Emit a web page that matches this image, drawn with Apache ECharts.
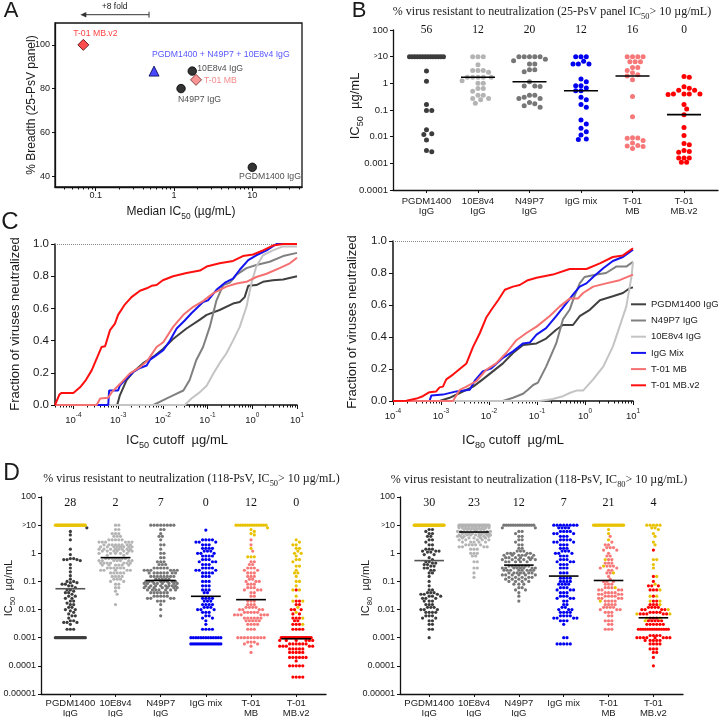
<!DOCTYPE html>
<html><head><meta charset="utf-8">
<script src="https://cdn.jsdelivr.net/npm/echarts@6.0.0/dist/echarts.min.js"></script>
<style>html,body{margin:0;padding:0;background:#fff;}#chart{width:719px;height:717px;}</style>
</head><body><div id="chart"></div>
<script>
// ================= DATA =================
// Panel A: median IC50 (µg/mL) vs % breadth (25-PsV panel)
const aLabels = ['T-01 MB.v2', 'PGDM1400 + N49P7 + 10E8v4 IgG', '10E8v4 IgG', 'T-01 MB', 'N49P7 IgG', 'PGDM1400 IgG'];
const aMedianIC50 = [0.0695, 0.556, 1.71, 1.91, 1.23, 10];
const aBreadth = [100, 88, 88, 84, 80, 44];
const aXTickValues = [0.1, 1, 10];
const aYTickValues = [40, 60, 80, 100];

// Shared categories for panels B and D
const categories = ['PGDM1400\nIgG', '10E8v4\nIgG', 'N49P7\nIgG', 'IgG mix', 'T-01\nMB', 'T-01\nMB.v2'];

// Panel B: 25-PsV IC50 values, [µg/mL, count]; ">10" plotted at 10
const bResistantPct = [56, 12, 20, 12, 16, 0];
const bPGDM1400 = [[10,14],[2.9,1],[1.2,1],[0.16,1],[0.095,2],[0.018,1],[0.013,1],[0.012,1],[0.0075,1],[0.003,1],[0.0027,1]];
const b10E8v4 = [[10,3],[5,1],[3,3],[2.6,1],[1.7,5],[1.26,1],[1.0,2],[0.64,2],[0.5,1],[0.36,2],[0.27,2],[0.24,1],[0.18,1]];
const bN49P7 = [[10,5],[8,1],[7,1],[5.3,2],[3.2,2],[2.7,1],[1.15,1],[0.8,2],[0.76,1],[0.36,2],[0.3,1],[0.27,2],[0.19,1],[0.17,1],[0.145,1],[0.127,1]];
const bIgGMix = [[10,3],[6.7,1],[5.3,3],[1.45,1],[1.15,1],[0.82,2],[0.67,1],[0.53,2],[0.30,1],[0.24,1],[0.16,1],[0.126,1],[0.042,1],[0.030,1],[0.0205,1],[0.0154,1],[0.0116,1],[0.0082,1],[0.0078,1]];
const bT01MB = [[10,4],[6.5,3],[3.9,2],[3.0,1],[2.5,1],[2.1,1],[1.88,1],[1.35,1],[0.32,1],[0.056,1],[0.0092,1],[0.009,1],[0.0088,1],[0.0072,1],[0.0058,1],[0.0047,1],[0.0045,1],[0.0043,1],[0.0036,1]];
const bT01MBv2 = [[1.8,1],[1.7,1],[0.75,1],[0.65,1],[0.55,2],[0.40,4],[0.38,1],[0.16,1],[0.11,1],[0.067,1],[0.022,1],[0.011,1],[0.0056,1],[0.005,1],[0.003,1],[0.0028,1],[0.0026,1],[0.0016,3],[0.0011,2]];
const bMedians = [null, 1.7, 1.15, 0.53, 1.88, 0.067];
const bYTickValues = [0.0001, 0.001, 0.01, 0.1, 1, 10, 100];
const bYTickLabels = ['0.0001', '0.001', '0.01', '0.1', '1', '{g|>}10', '100'];

// Panel C: cumulative curves, [log10 cutoff (µg/mL), fraction neutralized]
const cSeriesNames = ['PGDM1400 IgG', 'N49P7 IgG', '10E8v4 IgG', 'IgG Mix', 'T-01 MB', 'T-01 MB.v2'];
const c50PGDM1400 = [[-4.41,0],[-3.02,0],[-2.96,0.06],[-2.81,0.155],[-2.66,0.205],[-2.44,0.26],[-2.21,0.30],[-1.99,0.35],[-1.77,0.41],[-1.47,0.475],[-1.17,0.53],[-1.02,0.56],[-0.73,0.59],[-0.43,0.63],[-0.28,0.64],[-0.17,0.67],[-0.09,0.74],[0.09,0.745],[0.24,0.765],[0.46,0.775],[0.69,0.78],[1.0,0.80]];
const c50N49P7 = [[-4.41,0],[-2.21,0],[-2.07,0.02],[-1.92,0.04],[-1.77,0.06],[-1.54,0.09],[-1.40,0.155],[-1.25,0.28],[-1.10,0.36],[-0.95,0.485],[-0.80,0.65],[-0.65,0.745],[-0.50,0.76],[-0.35,0.81],[-0.13,0.85],[0.09,0.87],[0.39,0.89],[0.69,0.925],[1.0,0.945]];
const c5010E8v4 = [[-4.41,0],[-1.51,0],[-1.36,0.04],[-1.17,0.08],[-1.02,0.12],[-0.87,0.195],[-0.73,0.26],[-0.58,0.32],[-0.43,0.40],[-0.28,0.485],[-0.13,0.61],[-0.02,0.755],[0.09,0.86],[0.24,0.93],[0.46,0.96],[0.69,0.985],[1.0,0.985]];
const c50IgGMix = [[-4.41,0],[-3.22,0],[-3.20,0.09],[-3.00,0.09],[-2.96,0.12],[-2.81,0.165],[-2.66,0.205],[-2.51,0.23],[-2.36,0.245],[-2.29,0.28],[-2.14,0.31],[-1.99,0.34],[-1.84,0.40],[-1.69,0.475],[-1.51,0.525],[-1.36,0.57],[-1.21,0.61],[-1.10,0.64],[-0.99,0.65],[-0.80,0.715],[-0.61,0.76],[-0.43,0.785],[-0.28,0.84],[-0.09,0.90],[0.09,0.93],[0.32,0.96],[0.54,1.0],[1.0,1.0]];
const c50T01MB = [[-4.41,0],[-3.48,0],[-3.40,0.04],[-3.22,0.045],[-3.14,0.08],[-2.96,0.13],[-2.74,0.195],[-2.51,0.235],[-2.33,0.28],[-2.14,0.36],[-1.99,0.39],[-1.77,0.485],[-1.54,0.56],[-1.32,0.61],[-1.10,0.645],[-0.87,0.695],[-0.58,0.735],[-0.35,0.755],[-0.13,0.765],[0.09,0.795],[0.32,0.815],[0.61,0.85],[0.84,0.88],[1.0,0.915]];
const c50T01MBv2 = [[-4.41,0],[-4.31,0.066],[-4.26,0.075],[-4.00,0.075],[-3.85,0.11],[-3.72,0.155],[-3.59,0.215],[-3.46,0.30],[-3.37,0.36],[-3.29,0.365],[-3.18,0.465],[-3.07,0.505],[-3.00,0.56],[-2.86,0.62],[-2.70,0.67],[-2.51,0.71],[-2.36,0.725],[-2.25,0.74],[-2.14,0.745],[-2.00,0.775],[-1.77,0.80],[-1.47,0.82],[-1.17,0.835],[-1.02,0.86],[-0.73,0.88],[-0.43,0.895],[-0.21,0.925],[0.02,0.935],[0.24,0.96],[0.46,0.99],[0.69,1.0],[1.0,1.0]];
const c80PGDM1400 = [[-4,0],[-3.03,0],[-2.82,0.02],[-2.61,0.05],[-2.33,0.09],[-2.13,0.135],[-1.92,0.185],[-1.71,0.235],[-1.50,0.30],[-1.29,0.35],[-1.01,0.36],[-0.81,0.39],[-0.60,0.445],[-0.46,0.475],[-0.25,0.475],[-0.11,0.53],[0.10,0.57],[0.31,0.63],[0.58,0.655],[0.79,0.675],[0.93,0.705],[1.0,0.71]];
const c80N49P7 = [[-4,0],[-1.71,0],[-1.50,0.02],[-1.29,0.045],[-1.19,0.07],[-1.08,0.10],[-0.98,0.115],[-0.81,0.215],[-0.60,0.36],[-0.46,0.51],[-0.32,0.57],[-0.22,0.655],[-0.11,0.735],[-0.01,0.775],[0.24,0.79],[0.44,0.80],[0.65,0.84],[0.86,0.84],[1.0,0.87]];
const c8010E8v4 = [[-4,0],[-0.94,0],[-0.67,0.012],[-0.46,0.03],[-0.32,0.05],[-0.18,0.065],[-0.04,0.065],[0.17,0.135],[0.38,0.215],[0.58,0.34],[0.72,0.465],[0.86,0.59],[0.97,0.78],[1.0,0.87]];
const c80IgGMix = [[-4,0],[-3.24,0],[-3.20,0.035],[-2.96,0.04],[-2.68,0.06],[-2.40,0.07],[-2.30,0.125],[-2.13,0.185],[-1.95,0.205],[-1.71,0.27],[-1.50,0.31],[-1.29,0.36],[-1.15,0.365],[-1.01,0.415],[-0.81,0.455],[-0.60,0.53],[-0.39,0.61],[-0.25,0.665],[-0.11,0.715],[0.03,0.735],[0.17,0.775],[0.38,0.83],[0.58,0.875],[0.79,0.90],[1.0,0.945]];
const c80T01MB = [[-4,0],[-2.75,0],[-2.61,0.07],[-2.47,0.09],[-2.26,0.125],[-2.06,0.195],[-1.85,0.235],[-1.64,0.30],[-1.43,0.38],[-1.22,0.425],[-1.01,0.465],[-0.74,0.53],[-0.53,0.59],[-0.32,0.64],[-0.15,0.64],[-0.04,0.675],[0.17,0.715],[0.44,0.735],[0.72,0.755],[1.0,0.79]];
const c80T01MBv2 = [[-4,0],[-3.72,0.002],[-3.51,0.015],[-3.38,0.03],[-3.24,0.055],[-3.10,0.06],[-3.03,0.085],[-2.96,0.09],[-2.89,0.135],[-2.75,0.165],[-2.61,0.20],[-2.47,0.235],[-2.33,0.34],[-2.19,0.425],[-2.06,0.52],[-1.95,0.57],[-1.81,0.63],[-1.67,0.695],[-1.50,0.715],[-1.36,0.725],[-1.19,0.755],[-1.01,0.77],[-0.67,0.79],[-0.32,0.825],[0.03,0.825],[0.31,0.86],[0.58,0.90],[0.79,0.91],[1.0,0.955]];
const cXTickExponents = [-4, -3, -2, -1, 0, 1];
const cYTickValues = [0, 0.2, 0.4, 0.6, 0.8, 1.0];

// Panel D: 118-PsV values, [µg/mL, count]; "Y" lists are the yellow-marked viruses
const dLResistantPct = [28, 2, 7, 0, 12, 0];
const dL_PGDM1400 = [[8,1],[6,1],[4.5,1],[3,1],[1.4,1],[0.9,1],[0.65,2],[0.6,3],[0.55,1],[0.4,1],[0.3,1],[0.22,1],[0.16,1],[0.12,1],[0.1,2],[0.09,2],[0.08,2],[0.07,2],[0.06,1],[0.05,2],[0.045,1],[0.04,2],[0.035,1],[0.03,2],[0.025,2],[0.02,2],[0.017,1],[0.015,2],[0.012,2],[0.01,2],[0.009,1],[0.008,1],[0.007,1],[0.006,2],[0.005,1],[0.004,2],[0.0035,3],[0.003,1],[0.002,3],[0.001,25]];
const dL_PGDM1400Y = [[10,33]];
const dL_10E8v4 = [[10,2],[7,2],[5,3],[4,3],[3,5],[2.5,6],[2,8],[1.7,8],[1.4,8],[1.2,7],[1.0,5],[0.85,2],[0.65,7],[0.55,7],[0.45,7],[0.38,6],[0.3,6],[0.25,5],[0.2,5],[0.15,4],[0.12,3],[0.1,2],[0.08,2],[0.06,2],[0.045,1],[0.035,1],[0.015,1]];
const dL_N49P7 = [[10,8],[7,2],[5,1],[4,2],[3,1],[2,2],[1.4,1],[1.0,2],[0.7,2],[0.5,3],[0.4,3],[0.3,5],[0.25,6],[0.2,8],[0.15,8],[0.12,5],[0.1,8],[0.085,8],[0.07,8],[0.06,7],[0.05,7],[0.04,6],[0.03,5],[0.025,4],[0.02,3],[0.015,1],[0.01,1],[0.006,1]];
const dL_IgGMix = [[6.7,1],[3,4],[2.5,3],[2,3],[1.5,4],[1.2,3],[1.0,3],[0.8,4],[0.6,3],[0.5,3],[0.4,3],[0.3,4],[0.25,3],[0.2,4],[0.15,3],[0.1,3],[0.07,3],[0.05,3],[0.04,2],[0.025,4],[0.02,3],[0.015,4],[0.012,3],[0.01,3],[0.008,3],[0.006,2],[0.005,2],[0.004,1],[0.003,1],[0.002,4],[0.001,13],[0.0006,16]];
const dL_T01MB = [[3,1],[2,1],[1.2,1],[0.5,2],[0.4,2],[0.3,3],[0.25,2],[0.2,3],[0.15,3],[0.12,2],[0.1,3],[0.08,3],[0.06,3],[0.05,3],[0.04,2],[0.03,2],[0.02,3],[0.015,3],[0.012,4],[0.01,4],[0.008,5],[0.0065,6],[0.005,6],[0.004,5],[0.003,4],[0.002,3],[0.001,9],[0.0007,3],[0.0006,2],[0.0005,1],[0.0003,1]];
const dL_T01MBY = [[10,14],[8,1],[7,1],[6,1],[5,1],[4.5,1],[1.5,1],[0.75,3]];
const dL_T01MBv2 = [[0.05,1],[0.02,2],[0.015,2],[0.01,3],[0.007,2],[0.005,3],[0.004,2],[0.003,3],[0.002,4],[0.001,22],[0.0008,6],[0.0006,6],[0.0005,5],[0.0004,5],[0.0003,5],[0.0002,6],[0.00015,1],[0.0001,5],[0.00004,4]];
const dL_T01MBv2Y = [[3,1],[2.5,1],[2,2],[1.5,2],[1.2,1],[1,2],[0.8,1],[0.6,2],[0.5,1],[0.35,2],[0.25,1],[0.2,2],[0.15,1],[0.1,2],[0.07,1],[0.05,2],[0.03,1],[0.02,2],[0.012,1],[0.008,1],[0.005,1],[0.003,1]];
const dLMedians = [0.055, 0.70, 0.108, 0.0296, 0.0225, 0.00092];

const dRResistantPct = [30, 23, 12, 7, 21, 4];
const dR_PGDM1400 = [[7,2],[6,1],[5,2],[4,2],[3,2],[2.5,1],[2,2],[1.4,3],[1.2,3],[1.1,2],[0.9,2],[0.7,1],[0.6,1],[0.5,2],[0.45,2],[0.4,2],[0.35,2],[0.3,2],[0.25,2],[0.2,2],[0.15,1],[0.1,1],[0.07,1],[0.05,2],[0.04,3],[0.035,3],[0.03,3],[0.025,3],[0.02,3],[0.015,3],[0.012,3],[0.01,3],[0.008,4],[0.006,3],[0.005,2],[0.004,2],[0.003,2],[0.002,2],[0.001,1]];
const dR_PGDM1400Y = [[10,35]];
const dR_10E8v4 = [[10,27],[9,10],[8,10],[7,7],[6,5],[5,8],[4.5,7],[4,6],[3.5,5],[3,5],[2.5,5],[2,5],[1.7,4],[1.4,3],[1.0,3],[0.8,2],[0.5,2],[0.3,2],[0.2,1],[0.14,1]];
const dR_N49P7 = [[10,14],[8,2],[6,2],[5,1],[4,2],[3,2],[2.5,1],[2,2],[1.5,2],[1.2,3],[1.0,5],[0.85,6],[0.7,6],[0.6,6],[0.5,5],[0.35,7],[0.3,8],[0.25,8],[0.2,7],[0.17,6],[0.14,5],[0.12,4],[0.1,4],[0.08,3],[0.06,2],[0.05,2],[0.04,1],[0.03,1],[0.02,1]];
const dR_IgGMix = [[10,8],[8,4],[6,4],[5,3],[4,3],[3,4],[2.5,3],[2,3],[1.5,3],[1.2,3],[1.0,3],[0.8,3],[0.6,3],[0.5,3],[0.4,3],[0.3,3],[0.2,3],[0.13,4],[0.1,4],[0.08,4],[0.06,3],[0.05,3],[0.04,3],[0.03,3],[0.025,3],[0.02,2],[0.015,2],[0.012,2],[0.01,3],[0.008,4],[0.006,4],[0.005,4],[0.004,3],[0.003,1],[0.001,2],[0.0006,5]];
const dR_T01MB = [[4,1],[2.5,1],[2,2],[1.6,3],[1.3,2],[1,1],[0.8,2],[0.6,2],[0.45,3],[0.35,3],[0.3,2],[0.25,2],[0.2,2],[0.15,1],[0.12,1],[0.1,3],[0.08,3],[0.06,3],[0.05,4],[0.04,4],[0.035,4],[0.03,4],[0.025,4],[0.02,4],[0.015,4],[0.012,4],[0.01,3],[0.008,3],[0.006,2],[0.004,3],[0.003,2],[0.002,3]];
const dR_T01MBY = [[10,25],[7,1],[5,1],[3,1],[0.6,1],[0.35,1],[0.2,1],[0.06,1],[0.02,1]];
const dR_T01MBv2 = [[1.3,1],[0.15,1],[0.1,1],[0.07,3],[0.05,3],[0.03,1],[0.02,2],[0.015,3],[0.012,4],[0.01,4],[0.008,4],[0.007,5],[0.005,3],[0.004,5],[0.003,6],[0.002,14],[0.0012,4],[0.001,8],[0.0008,5],[0.0006,4],[0.0004,3],[0.0003,2],[0.0002,1],[0.0001,1]];
const dR_T01MBv2Y = [[10,5],[8,2],[7,1],[5,1],[4,1],[2.5,1],[2,1],[0.6,2],[0.4,1],[0.3,1],[0.15,1],[0.08,1],[0.05,1],[0.03,2],[0.02,2],[0.015,1],[0.01,1],[0.007,2],[0.005,2],[0.004,1]];
const dRMedians = [0.55, 5.7, 0.38, 0.155, 0.108, 0.0051];
const dYTickValues = [0.00001, 0.0001, 0.001, 0.01, 0.1, 1, 10, 100];
const dYTickLabels = ['0.00001', '0.0001', '0.001', '0.01', '0.1', '1', '{g|>}10', '100'];

// ================= STYLE / LAYOUT =================
const SANS = "'Liberation Sans', Arial, Helvetica, sans-serif";
const SERIF = "'Liberation Serif', 'Times New Roman', serif";
const TXT = '#1a1a1a';
const YEL = '#e8c200';
const catColors = ['#3c3c3c', '#b4b4b4', '#777777', '#0000f0', '#f67878', '#ff0000'];
const cColors = ['#404040', '#808080', '#c4c4c4', '#1414f0', '#f57070', '#ff1010'];
const G = {
  A: {left: 55, top: 23, width: 247, height: 164},
  B: {left: 393, top: 30, width: 325, height: 160},
  CL: {left: 55, top: 244, width: 242, height: 161},
  CR: {left: 393, top: 241, width: 240, height: 160},
  DL: {left: 41, top: 497, width: 285, height: 197},
  DR: {left: 400, top: 497, width: 283, height: 197}
};
const CAT_MIN = -0.65, CAT_MAX = 5.66;
const lg = Math.log10;

function near(a, b) { return Math.abs(a - b) < 1e-6; }
function logLabel(vals, labels) {
  return v => { for (let i = 0; i < vals.length; i++) if (near(lg(vals[i]), v)) return labels ? labels[i] : String(vals[i]); return ''; };
}
function minorLogTicks(lo, hi) {
  const out = [];
  for (let e = -6; e <= 2; e++) for (let k = 2; k <= 9; k++) { const v = e + lg(k); if (v >= lo - 1e-9 && v <= hi + 1e-9) out.push(v); }
  return out;
}
function axis(o) {
  return {
    type: 'value', gridIndex: o.grid, min: o.min, max: o.max, position: o.pos,
    splitLine: {show: false},
    axisLine: {show: o.line !== false, onZero: false, lineStyle: {color: '#111', width: o.lw || 1.3}},
    axisTick: {show: true, length: o.tl || 4, customValues: o.ticks, lineStyle: {color: '#111', width: 1}},
    axisLabel: {show: !!o.labels, customValues: o.labels, formatter: o.fmt, color: TXT, fontFamily: SANS,
      fontSize: o.fs || 10, margin: o.margin == null ? 5 : o.margin, lineHeight: o.lh, rich: o.rich, hideOverlap: false,
      showMinLabel: true, showMaxLabel: true}
  };
}

// ---- beeswarm layout (pixel based, deterministic) ----
function expand(list, tag) {
  const out = [];
  (list || []).forEach(([v, n]) => { for (let i = 0; i < n; i++) out.push({v: lg(v), tag}); });
  return out;
}
function swarm(pts, pxY, d, barHalf, maxHalf) {
  const counts = new Map();
  pts.forEach(p => counts.set(p.v, (counts.get(p.v) || 0) + 1));
  const placed = [], idx = new Map();
  pts.forEach(p => {
    const n = counts.get(p.v);
    if (n * d > 2 * barHalf) {
      const k = idx.get(p.v) || 0; idx.set(p.v, k + 1);
      p.dx = -barHalf + k * (2 * barHalf / (n - 1));
      p.done = true; placed.push(p);
    }
  });
  const rest = pts.filter(p => !p.done).sort((a, b) => b.v - a.v);
  const s = d / 2;
  rest.forEach(p => {
    const py = p.v * pxY;
    let best = 0, bestScore = -1;
    for (let k = 0; ; k++) {
      const m = Math.ceil(k / 2);
      if (m * s > maxHalf) break;
      const off = k === 0 ? 0 : (k % 2 ? m * s : -m * s);
      let minD = Infinity;
      for (const q of placed) {
        const dy = q.v * pxY - py;
        if (Math.abs(dy) >= d) continue;
        const dist = Math.hypot(q.dx - off, dy);
        if (dist < minD) minD = dist;
      }
      if (minD >= d * 0.95) { best = off; bestScore = Infinity; break; }
      if (minD > bestScore) { bestScore = minD; best = off; }
    }
    p.dx = best; placed.push(p);
  });
  return pts;
}
function swarmSeries(groups, yellowGroups, gKey, xIdx, yIdx, yMin, yMax, dot, d, barHalf, maxHalf) {
  const g = G[gKey];
  const pxX = g.width / (CAT_MAX - CAT_MIN), pxY = g.height / (yMax - yMin);
  const out = [], yellow = [];
  groups.forEach((list, ci) => {
    const pts = expand(list, 0).concat(expand(yellowGroups[ci], 1));
    swarm(pts, pxY, d, barHalf, maxHalf);
    const main = pts.filter(p => p.tag === 0).map(p => [ci + p.dx / pxX, p.v]);
    pts.filter(p => p.tag === 1).forEach(p => yellow.push([ci + p.dx / pxX, p.v]));
    out.push({type: 'scatter', xAxisIndex: xIdx, yAxisIndex: yIdx, data: main, symbol: 'circle', symbolSize: dot,
      itemStyle: {color: catColors[ci], opacity: 1}, silent: true, z: 3, emphasis: {disabled: true}});
  });
  if (yellow.length) out.push({type: 'scatter', xAxisIndex: xIdx, yAxisIndex: yIdx, data: yellow, symbol: 'circle', symbolSize: dot,
    itemStyle: {color: YEL, opacity: 1}, silent: true, z: 4, emphasis: {disabled: true}});
  return out;
}
function medianSeries(xIdx, yIdx, meds, colors) {
  return {type: 'custom', xAxisIndex: xIdx, yAxisIndex: yIdx, z: 6, silent: true,
    data: meds.map((m, i) => m == null ? null : [i, lg(m)]).filter(Boolean),
    renderItem: (params, api) => {
      const x = api.value(0), y = api.value(1);
      const p1 = api.coord([x - 0.33, y]), p2 = api.coord([x + 0.33, y]);
      return {type: 'line', shape: {x1: p1[0], y1: p1[1], x2: p2[0], y2: p2[1]}, style: {stroke: colors[Math.round(x)], lineWidth: 1.6}};
    }};
}
function countSeries(xIdx, yIdx, vals, yLevel, fs) {
  return {type: 'custom', xAxisIndex: xIdx, yAxisIndex: yIdx, z: 6, silent: true,
    data: vals.map((v, i) => [i, yLevel, v]),
    renderItem: (params, api) => {
      const p = api.coord([api.value(0), api.value(1)]);
      return {type: 'text', x: p[0], y: p[1], style: {text: String(api.value(2)), fontSize: fs, fontFamily: SERIF, fill: '#111',
        align: 'center', verticalAlign: 'middle', textAlign: 'center', textVerticalAlign: 'middle'}};
    }};
}

// ================= OPTION =================
const gridOpt = k => Object.assign({containLabel: false, outerBoundsMode: 'none'}, G[k]);
const grids = [
  Object.assign(gridOpt('A'), {show: true, borderColor: '#111', borderWidth: 1.3, backgroundColor: 'transparent'}),
  gridOpt('B'), gridOpt('CL'), gridOpt('CR'), gridOpt('DL'), gridOpt('DR')
];
const catIdx = [0, 1, 2, 3, 4, 5];
const catFmt = v => categories[Math.round(v)];
const gRich = {g: {fontSize: 6.5, fontFamily: SANS, color: TXT}};
const supRich = {sup: {fontSize: 6.5, fontFamily: SANS, color: TXT, verticalAlign: 'top', lineHeight: 8}};
const cXFmt = v => '10{sup|' + Math.round(v) + '}';

const xAxes = [
  axis({grid: 0, min: -1.52, max: 1.635, pos: 'bottom', ticks: aXTickValues.map(lg), labels: aXTickValues.map(lg), fmt: logLabel(aXTickValues), fs: 9, margin: 4, tl: 4}),
  axis({grid: 0, min: -1.52, max: 1.635, pos: 'bottom', line: false, ticks: minorLogTicks(-1.52, 1.635), tl: 2.5}),
  axis({grid: 1, min: CAT_MIN, max: CAT_MAX, pos: 'bottom', ticks: catIdx, labels: catIdx, fmt: catFmt, fs: 9.5, lh: 10.5, margin: 6, tl: 3}),
  axis({grid: 2, min: -4.41, max: 1, pos: 'bottom', ticks: cXTickExponents, labels: cXTickExponents, fmt: cXFmt, fs: 9.5, lh: 16, rich: supRich, margin: 7, tl: 4, lw: 1.5}),
  axis({grid: 2, min: -4.41, max: 1, pos: 'bottom', line: false, ticks: minorLogTicks(-4.41, 1), tl: 2.5}),
  axis({grid: 3, min: -4, max: 1, pos: 'bottom', ticks: cXTickExponents, labels: cXTickExponents, fmt: cXFmt, fs: 9.5, lh: 16, rich: supRich, margin: 7, tl: 4, lw: 1.5}),
  axis({grid: 3, min: -4, max: 1, pos: 'bottom', line: false, ticks: minorLogTicks(-4, 1), tl: 2.5}),
  axis({grid: 4, min: CAT_MIN, max: CAT_MAX, pos: 'bottom', ticks: catIdx, labels: catIdx, fmt: catFmt, fs: 9.5, lh: 10, margin: 4, tl: 3}),
  axis({grid: 5, min: CAT_MIN, max: CAT_MAX, pos: 'bottom', ticks: catIdx, labels: catIdx, fmt: catFmt, fs: 9.5, lh: 10, margin: 4, tl: 3})
];
const yAxes = [
  axis({grid: 0, min: 35, max: 110, pos: 'left', ticks: aYTickValues, labels: aYTickValues, fmt: v => String(Math.round(v)), fs: 9, margin: 5, tl: 3}),
  axis({grid: 1, min: -4, max: 2, pos: 'left', ticks: bYTickValues.map(lg), labels: bYTickValues.map(lg), fmt: logLabel(bYTickValues, bYTickLabels), rich: gRich, fs: 9.5, margin: 5, tl: 3}),
  axis({grid: 2, min: 0, max: 1, pos: 'left', ticks: cYTickValues, labels: cYTickValues, fmt: v => v.toFixed(1), fs: 11.5, margin: 6, tl: 4, lw: 1.5}),
  axis({grid: 3, min: 0, max: 1, pos: 'left', ticks: cYTickValues, labels: cYTickValues, fmt: v => v.toFixed(1), fs: 11.5, margin: 6, tl: 4, lw: 1.5}),
  axis({grid: 4, min: -5, max: 2, pos: 'left', ticks: dYTickValues.map(lg), labels: dYTickValues.map(lg), fmt: logLabel(dYTickValues, dYTickLabels), rich: gRich, fs: 9, margin: 5, tl: 3}),
  axis({grid: 5, min: -5, max: 2, pos: 'left', ticks: dYTickValues.map(lg), labels: dYTickValues.map(lg), fmt: logLabel(dYTickValues, dYTickLabels), rich: gRich, fs: 9, margin: 5, tl: 3})
];

const aStyles = [
  {symbol: 'diamond', size: 11, fill: '#ff2020', stroke: '#4a0000', lc: '#ff1010', align: 'center', off: [12, -11]},
  {symbol: 'triangle', size: 10, fill: '#1a1aff', stroke: '#00004a', lc: '#2a2aff', align: 'left', off: [-2, -17]},
  {symbol: 'circle', size: 8.5, fill: '#000', stroke: '#000', lc: TXT, align: 'left', off: [5, -3]},
  {symbol: 'diamond', size: 11, fill: '#f77a7a', stroke: '#6a2020', lc: '#f06a6a', align: 'left', off: [8, 1]},
  {symbol: 'circle', size: 8.5, fill: '#000', stroke: '#000', lc: TXT, align: 'center', off: [18.5, 11]},
  {symbol: 'circle', size: 8.5, fill: '#000', stroke: '#000', lc: TXT, align: 'center', off: [17.7, 9.5]}
];
const series = [];
series.push({type: 'scatter', xAxisIndex: 0, yAxisIndex: 0, silent: true, z: 5, emphasis: {disabled: true},
  data: aMedianIC50.map((x, i) => {
    const s = aStyles[i];
    return {value: [lg(x), aBreadth[i]], symbol: s.symbol, symbolSize: s.size,
      itemStyle: {color: s.fill, borderColor: s.stroke, borderWidth: 1},
      label: {show: true, formatter: aLabels[i], position: 'inside', align: s.align, verticalAlign: 'middle', offset: s.off,
        color: s.lc, fontSize: 8.7, fontFamily: SANS}};
  })});

// Panel B
series.push(...swarmSeries([bPGDM1400, b10E8v4, bN49P7, bIgGMix, bT01MB, bT01MBv2], [], 'B', 2, 1, -4, 2, 5, 5.3, 17, 18));
series.push(medianSeries(2, 1, bMedians, ['#000', '#000', '#000', '#000', '#000', '#000']));
series.push(countSeries(2, 1, bResistantPct, 2, 11.5));

// Panel C
const cLeft = [c50PGDM1400, c50N49P7, c5010E8v4, c50IgGMix, c50T01MB, c50T01MBv2];
const cRight = [c80PGDM1400, c80N49P7, c8010E8v4, c80IgGMix, c80T01MB, c80T01MBv2];
const dotted = {silent: true, symbol: ['none', 'none'], label: {show: false}, lineStyle: {type: 'dotted', color: '#8a8a8a', width: 1}, data: [{yAxis: 1}]};
cSeriesNames.forEach((n, i) => {
  series.push({type: 'line', name: n, xAxisIndex: 3, yAxisIndex: 2, data: cLeft[i], symbol: 'none', showSymbol: false,
    lineStyle: {width: 2, color: cColors[i]}, itemStyle: {color: cColors[i]}, z: 2 + i, silent: true,
    markLine: i === 0 ? dotted : undefined});
  series.push({type: 'line', name: n, xAxisIndex: 5, yAxisIndex: 3, data: cRight[i], symbol: 'none', showSymbol: false,
    lineStyle: {width: 2, color: cColors[i]}, itemStyle: {color: cColors[i]}, z: 2 + i, silent: true,
    markLine: i === 0 ? dotted : undefined});
});

// Panel D
const dMedCol = ['#555', '#000', '#000', '#000', '#000', '#000'];
series.push(...swarmSeries([dL_PGDM1400, dL_10E8v4, dL_N49P7, dL_IgGMix, dL_T01MB, dL_T01MBv2],
  [dL_PGDM1400Y, [], [], [], dL_T01MBY, dL_T01MBv2Y], 'DL', 7, 4, -5, 2, 3.2, 3.3, 15, 17));
series.push(medianSeries(7, 4, dLMedians, dMedCol));
series.push(countSeries(7, 4, dLResistantPct, 1.78, 12));
series.push(...swarmSeries([dR_PGDM1400, dR_10E8v4, dR_N49P7, dR_IgGMix, dR_T01MB, dR_T01MBv2],
  [dR_PGDM1400Y, [], [], [], dR_T01MBY, dR_T01MBv2Y], 'DR', 8, 5, -5, 2, 3.2, 3.3, 15, 17));
series.push(medianSeries(8, 5, dRMedians, dMedCol));
series.push(countSeries(8, 5, dRResistantPct, 1.78, 12));

const option = {
  animation: false, backgroundColor: '#fff',
  grid: grids, xAxis: xAxes, yAxis: yAxes, series,
  legend: {show: true, orient: 'vertical', left: 631, top: 297.3, icon: 'rect', itemWidth: 15, itemHeight: 2, itemGap: 2.2,
    data: cSeriesNames, selectedMode: false, padding: 0,
    textStyle: {fontSize: 9.5, fontFamily: SANS, color: TXT, lineHeight: 14, padding: [0, 0, 0, 0]}}
};

const chart = echarts.init(document.getElementById('chart'), null, {renderer: 'canvas', width: 719, height: 717});
chart.setOption(option);

// ================= TEXT ANNOTATIONS =================
function subRich(fs, ff) { return {s: {fontSize: fs * 0.7, fontFamily: ff, fill: TXT, verticalAlign: 'bottom', lineHeight: fs * 0.78}}; }
function gtext(x, y, text, o) {
  const ff = o.ff || SANS;
  return {type: 'text', x, y, rotation: o.rot || 0, z: 100, silent: true,
    style: {text, fontSize: o.fs, fontFamily: ff, fill: o.fill || TXT, align: o.align || 'center', verticalAlign: 'middle',
      textAlign: o.align || 'center', textVerticalAlign: 'middle', lineHeight: o.rich ? o.fs * 1.5 : undefined,
      rich: o.rich ? subRich(o.fs, ff) : undefined}};
}
const R = Math.PI / 2;
const els = [
  gtext(11, 10.5, 'A', {fs: 22}),
  gtext(359, 10.5, 'B', {fs: 22}),
  gtext(10, 222, 'C', {fs: 24}),
  gtext(11.5, 474, 'D', {fs: 23}),
  gtext(552, 12, '% virus resistant to neutralization (25-PsV panel IC{s|50}> 10 µg/mL)', {fs: 12, ff: SERIF, rich: true}),
  gtext(191.5, 479, '% virus resistant to neutralization (118-PsV, IC{s|50}> 10 µg/mL)', {fs: 12, ff: SERIF, rich: true}),
  gtext(539, 480, '% virus resistant to neutralization (118-PsV, IC{s|80}> 10 µg/mL)', {fs: 12, ff: SERIF, rich: true}),
  gtext(32, 105, '% Breadth (25-PsV panel)', {fs: 12, rot: R}),
  gtext(181, 212, 'Median IC{s|50} (µg/mL)', {fs: 12, rich: true}),
  gtext(355, 106, 'IC{s|50}  µg/mL', {fs: 13, rot: R, rich: true}),
  gtext(15, 324, 'Fraction of viruses neutralized', {fs: 13, rot: R}),
  gtext(177, 440, 'IC{s|50} cutoff  µg/mL', {fs: 13, rich: true}),
  gtext(352, 322, 'Fraction of viruses neutralized', {fs: 13, rot: R}),
  gtext(513, 440, 'IC{s|80} cutoff  µg/mL', {fs: 13, rich: true}),
  gtext(9, 588, 'IC{s|50}  µg/mL', {fs: 11, rot: R, rich: true}),
  gtext(366, 588, 'IC{s|80}  µg/mL', {fs: 11, rot: R, rich: true})
];
// "+8 fold" arrow between the IgG mix and T-01 MB.v2 medians
const pFrom = chart.convertToPixel({xAxisIndex: 0, yAxisIndex: 0}, [lg(aMedianIC50[0]), 100]);
const pTo = chart.convertToPixel({xAxisIndex: 0, yAxisIndex: 0}, [lg(aMedianIC50[1]), 100]);
const ay = 14.7, x1 = pFrom[0] - 3, x2 = pTo[0] - 5;
els.push({type: 'line', silent: true, z: 100, shape: {x1: x1 + 4, y1: ay, x2: x2, y2: ay}, style: {stroke: '#333', lineWidth: 1}});
els.push({type: 'line', silent: true, z: 100, shape: {x1: x2, y1: ay - 3, x2: x2, y2: ay + 3}, style: {stroke: '#333', lineWidth: 1}});
els.push({type: 'polygon', silent: true, z: 100, shape: {points: [[x1, ay], [x1 + 6, ay - 2.8], [x1 + 6, ay + 2.8]]}, style: {fill: '#333'}});
els.push(gtext((x1 + x2) / 2, 7, '+8 fold', {fs: 8.5}));
chart.setOption({graphic: {elements: els}});
</script></body></html>
